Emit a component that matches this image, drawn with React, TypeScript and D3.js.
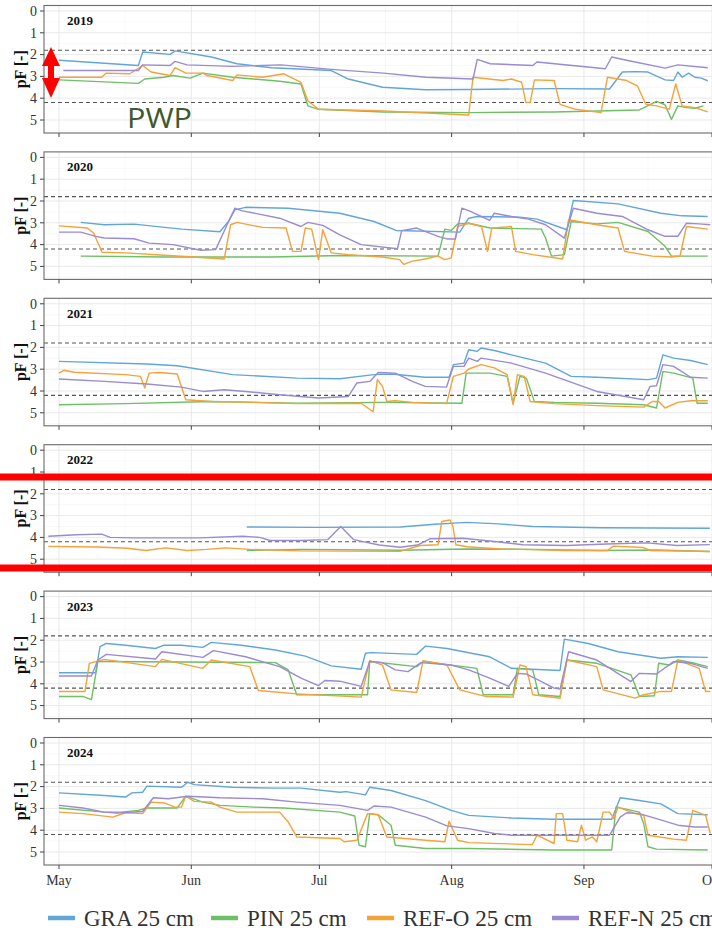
import React from 'react';
import * as d3 from 'd3';

type Pt = [number, number];

const years = ['2019', '2020', '2021', '2022', '2023', '2024'];
const seriesNames = ['GRA 25 cm', 'PIN 25 cm', 'REF-O 25 cm', 'REF-N 25 cm'];
const monthLabels = ['May', 'Jun', 'Jul', 'Aug', 'Sep', 'Oct'];
const yTicks = [0, 1, 2, 3, 4, 5];
const thresholds = [1.8, 4.2];

// [days since 1 May, pF]
const gra2019: Pt[] = [[0,2.26],[18.6,2.5],[19.6,1.88],[26,1.99],[27.2,1.83],[35.7,2.11],[41.7,2.42],[49.8,2.6],[63.8,2.73],[67.8,3.12],[75.8,3.5],[85.9,3.61],[96,3.6],[116,3.56],[129,3.58],[132,2.8],[135,2.78],[138,2.8],[142,3.16],[144,3.19],[145,2.8],[146,3.04],[147.5,2.85],[149,3.04],[150.5,3.08],[152,3.2]];
const pin2019: Pt[] = [[0,3.16],[18.6,3.32],[20.1,3.12],[24.6,3.04],[26.6,2.96],[30.7,3.08],[33.7,2.85],[40.7,3.04],[51.7,3.22],[56.7,3.35],[58.3,4.35],[60.8,4.51],[76,4.63],[96,4.66],[116,4.63],[136,4.54],[140,4.15],[142,4.3],[143.5,4.97],[145,4.35],[147,4.43],[149,4.46],[151,4.35]];
const refo2019: Pt[] = [[0,3.04],[10,3.04],[11,2.85],[16.6,2.88],[19.6,2.5],[21.6,2.8],[26,2.96],[27.2,2.6],[29.7,2.85],[33.7,2.85],[34.7,2.96],[40.7,3.19],[41.7,2.93],[47.7,3.04],[52.7,2.88],[56.7,3.27],[58.3,4.12],[60.8,4.51],[76,4.59],[96,4.77],[97,3.04],[104,3.19],[106,3.12],[108.4,3.27],[109.4,4.2],[110.4,4.2],[111.4,3.16],[116,3.19],[117.4,4.28],[121,4.51],[127,4.66],[128.5,3.04],[133,3.19],[135.5,3.43],[137.5,4.28],[140,4.35],[143,4.5],[144.5,3.35],[146,4.35],[149,4.43],[152,4.63]];
const refn2019: Pt[] = [[1,2.73],[18.6,2.73],[19.6,2.47],[26,2.5],[27.2,2.31],[30,2.47],[40.7,2.54],[52,2.47],[63.8,2.68],[76,2.85],[86,3.04],[97,3.12],[98,2.22],[101,2.42],[111,2.5],[112,2.34],[128,2.65],[129.5,2.11],[133,2.26],[142,2.62],[145,2.47],[152,2.6]];

const gra2020: Pt[] = [[5.1,2.98],[10.6,3.09],[17.6,3.06],[28.7,3.29],[37.7,3.41],[39.7,2.94],[41.2,2.41],[43.7,2.29],[53.7,2.33],[65.8,2.56],[73.8,2.94],[79,3.35],[93.9,3.43],[96,2.79],[98,2.71],[108,2.74],[112,2.83],[119,3.32],[120.5,1.98],[131,2.13],[141,2.56],[146,2.68],[152,2.71]];
const pin2020: Pt[] = [[5.1,4.53],[25,4.57],[50,4.57],[65.8,4.5],[88.8,4.53],[90.4,3.29],[91.9,3.35],[93.4,3.05],[96,3.02],[101,3.24],[113,3.29],[114,3.7],[115.4,4.53],[118.4,4.46],[120,2.94],[126,3.05],[131,2.98],[138,3.4],[142,4.08],[143.5,4.53],[152,4.53]];
const refo2020: Pt[] = [[0,3.14],[6.6,3.24],[8.1,3.47],[10.1,4.35],[15.6,4.38],[25.7,4.5],[38.7,4.66],[40.2,3.09],[41.7,2.98],[47.7,3.21],[53.2,3.24],[54.7,4.31],[56.7,4.31],[57.7,3.24],[59.2,3.29],[60.8,4.69],[61.8,3.32],[63.8,4.38],[67.8,4.46],[75.8,4.57],[79.8,4.69],[80.8,4.91],[82.8,4.76],[85.8,4.66],[88.8,4.53],[90.4,4.69],[91.9,4.61],[93.4,3.17],[96,3.02],[99,3.17],[100.4,4.31],[101.4,3.24],[106,3.17],[107,4.31],[111,4.46],[118,4.66],[119.4,2.86],[126,3.09],[131,3.24],[132.5,4.31],[139,4.53],[143.5,4.57],[145.5,4.53],[147,3.17],[152,3.29]];
const refn2020: Pt[] = [[0,3.43],[5.1,3.43],[8.6,3.62],[10.6,3.7],[17.6,3.73],[21.1,3.93],[26.7,4.0],[33.2,4.26],[36.7,4.23],[39.2,3.17],[41.2,2.33],[42.7,2.44],[51.7,2.79],[56.7,3.17],[58.3,2.98],[61.8,3.12],[65.8,3.55],[70.8,4.0],[79.3,4.19],[80.3,3.36],[83.8,3.24],[88.8,3.62],[90.9,3.74],[92.9,3.74],[94.4,2.33],[96.4,2.48],[100.9,2.89],[102,2.56],[106,2.71],[110,2.83],[114,3.09],[118.4,3.7],[120.5,2.33],[126,2.56],[132,2.71],[138,3.32],[142,3.62],[145,3.62],[147,3.02],[150,3.05],[152.6,3.09]];

const gra2021: Pt[] = [[0,2.64],[20.6,2.76],[27.7,2.84],[40.7,3.25],[55.7,3.41],[65.8,3.44],[73.8,3.25],[78,3.22],[85.8,3.37],[91.4,3.37],[92.4,2.79],[94.9,2.72],[96,2.11],[98,2.18],[98.9,2.03],[102,2.14],[106,2.34],[114,2.72],[120,3.33],[126,3.37],[138,3.48],[140,3.41],[141.5,2.34],[144,2.49],[148,2.6],[152,2.79]];
const pin2021: Pt[] = [[0,4.63],[15.6,4.58],[35.7,4.48],[55.7,4.56],[75.8,4.52],[94.4,4.56],[95.4,3.18],[101,3.18],[105,3.33],[106.4,4.56],[108,3.33],[109.5,3.41],[111.4,4.48],[116,4.52],[126,4.56],[137,4.63],[140,4.78],[141.5,3.1],[144,3.18],[148.5,3.41],[149.5,4.56],[152,4.56]];
const refo2021: Pt[] = [[0,3.18],[1.1,3.05],[3.6,3.14],[15.6,3.25],[19.1,3.33],[20.1,3.86],[21.1,3.18],[23.6,3.15],[27.7,3.22],[29.7,4.4],[35.7,4.48],[45.7,4.52],[55.7,4.58],[70.8,4.56],[73.6,4.95],[74.6,3.48],[75.8,3.79],[76.8,4.48],[78.8,4.45],[82.8,4.52],[90.8,4.58],[92.4,3.33],[94.9,3.18],[96,2.99],[98.9,2.79],[102,2.94],[105,3.25],[106.4,4.63],[107.4,3.25],[109,3.33],[110.4,4.48],[116,4.58],[126,4.67],[137,4.74],[139,4.48],[140.5,4.48],[142,4.78],[145,4.52],[148,4.45],[152,4.45]];
const refn2021: Pt[] = [[0,3.45],[10.6,3.56],[20.6,3.68],[28.7,3.82],[33.7,4.02],[38.7,3.94],[43.7,4.02],[51.7,4.17],[60.8,4.32],[67.8,4.25],[69.8,3.63],[72.8,3.56],[74.8,3.15],[78.8,3.18],[82.8,3.56],[85.8,3.79],[90.8,3.82],[92.4,2.87],[94.9,2.87],[96,2.49],[98,2.64],[98.9,2.49],[106,2.72],[114,3.18],[126,4.02],[137,4.4],[138.5,3.79],[140,3.76],[141.5,2.79],[144,2.87],[148,3.37],[152,3.41]];

const gra2022: Pt[] = [[44,3.52],[60,3.54],[80,3.52],[88,3.4],[95.6,3.31],[103,3.38],[111,3.5],[127,3.56],[152.5,3.58]];
const pin2022: Pt[] = [[44,4.6],[56.5,4.55],[80,4.59],[95.6,4.53],[111,4.55],[126.8,4.6],[140,4.58],[152.5,4.65]];
const refo2022: Pt[] = [[-2.5,4.41],[9,4.44],[16,4.5],[20.4,4.6],[25,4.48],[30,4.6],[34.7,4.55],[39,4.48],[44.7,4.55],[56.5,4.62],[79.9,4.64],[84.6,4.37],[88.8,4.34],[89.7,3.27],[91.6,3.2],[92.3,3.5],[93,4.34],[95.6,4.43],[103.3,4.53],[119,4.6],[128.6,4.6],[129.8,4.4],[136.8,4.46],[138.5,4.6],[152.5,4.65]];
const refn2022: Pt[] = [[-2.5,3.95],[4,3.88],[10,3.85],[12,4.0],[17.3,4.02],[33,4.02],[43,3.95],[47,4.0],[49.5,4.14],[56.5,4.14],[63,4.1],[66,3.5],[69,4.1],[75,4.35],[79.9,4.45],[84,4.35],[87,4.06],[94.6,4.04],[102.6,4.2],[108.7,4.34],[119,4.37],[128.4,4.3],[137.8,4.25],[144.8,4.37],[152.5,4.33]];

const gra2023: Pt[] = [[0,3.49],[8.6,3.49],[9.6,2.3],[11.1,2.15],[15.6,2.23],[22.6,2.38],[24.6,2.23],[28.7,2.23],[33.7,2.33],[35.7,2.1],[42.7,2.23],[50.7,2.45],[57.7,2.73],[63.8,3.18],[70.8,3.33],[71.8,2.6],[73.3,2.57],[83.8,2.65],[85.9,2.27],[90.9,2.38],[100.9,2.76],[106,3.29],[111,3.33],[117.4,3.39],[118.4,1.95],[124,2.15],[131,2.53],[141,2.83],[145,2.76],[152,2.79]];
const pin2023: Pt[] = [[0,4.58],[5.6,4.58],[7.6,4.73],[9.1,2.98],[11.6,2.98],[50.7,3.03],[53.7,3.36],[55.7,4.5],[70.8,4.5],[72.3,4.5],[72.8,2.98],[83.8,3.21],[85.3,2.98],[97.9,3.29],[99.4,4.5],[106.4,4.5],[107.4,3.29],[111,3.36],[112.4,4.5],[117.4,4.58],[119,2.91],[126,3.06],[134,3.59],[136,4.58],[139.5,4.55],[140.5,3.06],[143,3.14],[145,2.91],[149,3.06],[152,3.21]];
const refo2023: Pt[] = [[0,4.35],[6.1,4.35],[7.1,3.06],[10.6,2.88],[22.6,3.21],[24.1,2.88],[33.7,3.29],[35.7,2.91],[44.7,3.21],[46.7,4.31],[55.7,4.46],[70.8,4.61],[72.8,2.94],[75.8,3.14],[77.8,4.28],[83.8,4.4],[85.3,2.94],[90.9,3.14],[93.9,4.28],[99.9,4.58],[106.4,4.61],[108,3.14],[109.4,3.21],[111,4.5],[117.4,4.66],[119,2.91],[126,3.21],[127.5,4.28],[135,4.66],[137,4.5],[141,4.35],[143.5,4.35],[145,2.91],[150,3.29],[151.5,4.35],[152.6,4.35]];
const refn2023: Pt[] = [[0,3.64],[7.6,3.64],[9.1,2.91],[11.1,2.65],[22.6,2.86],[24.1,2.53],[33.7,2.79],[36.2,2.48],[43.7,2.76],[51.7,3.21],[56.7,3.74],[60.8,4.08],[62.3,3.85],[65.8,3.88],[70.8,4.12],[72.8,2.98],[75.8,3.03],[78.8,3.36],[81.8,3.44],[84.8,3.03],[91.9,3.14],[96,3.36],[100.9,3.74],[105.4,4.12],[107.4,3.52],[109.4,3.55],[111.9,3.79],[116,4.2],[117.4,4.24],[119.4,2.53],[126,2.91],[134,3.9],[136,3.52],[140,3.55],[144,2.98],[148,3.06],[152,3.29]];

const gra2024: Pt[] = [[0,2.29],[10.6,2.41],[15.6,2.48],[17.1,2.29],[19.6,2.26],[20.6,1.98],[28.7,2.03],[30.2,1.8],[31.7,1.91],[40.7,2.03],[50.7,2.07],[56.7,2.07],[65.8,2.26],[67.3,2.23],[71.8,2.38],[72.8,2.03],[77.8,2.18],[85.9,2.64],[91.9,3.09],[96,3.32],[106,3.44],[116,3.5],[129.5,3.5],[131.5,2.51],[136,2.64],[141,2.79],[145,3.24],[152,3.29]];
const pin2024: Pt[] = [[0,2.98],[10.6,3.17],[14.6,3.17],[18.6,3.09],[20.6,2.98],[27.7,2.98],[29.7,2.44],[33.7,2.71],[37.7,2.86],[45.7,2.94],[52.7,2.98],[65.8,3.17],[69.3,3.35],[70.3,4.69],[71.8,4.76],[72.8,3.24],[74.8,3.29],[77.8,3.77],[78.8,4.69],[85.9,4.84],[96,4.84],[116,4.91],[129.5,4.91],[130.5,2.94],[132,3.0],[136,3.17],[137,3.7],[138,4.76],[140,4.87],[152,4.91]];
const refo2024: Pt[] = [[0,3.17],[5.6,3.24],[12.6,3.4],[15.6,3.2],[19.6,3.24],[21.6,2.71],[24.6,2.75],[27.2,2.94],[28.7,2.94],[29.7,2.44],[31.7,2.68],[35.7,2.71],[37.7,2.94],[41.7,3.17],[51.7,3.17],[53.7,3.62],[55.7,4.31],[65.8,4.38],[66.8,4.53],[69.8,4.46],[72.3,3.24],[74.8,3.29],[76.8,4.31],[85.9,4.46],[90.4,4.53],[91.4,3.59],[93.4,4.46],[96,4.57],[110.9,4.66],[112,4.23],[116,4.61],[116.5,3.24],[118,3.24],[119,4.46],[121.5,4.53],[122.4,3.77],[123.4,4.46],[125,4.31],[126,4.53],[127.5,3.17],[129,3.17],[130,3.47],[131,2.94],[135,3.24],[137,3.32],[138,4.23],[144,4.41],[147,4.46],[148.5,3.09],[151.5,3.32],[152.6,4.15]];
const refn2024: Pt[] = [[0,2.86],[5.6,2.98],[10.6,3.17],[13.6,3.21],[19.6,3.14],[22.1,2.51],[25.6,2.56],[30.2,2.44],[37.7,2.51],[47.7,2.56],[55.7,2.71],[65.8,2.86],[72.3,3.09],[73.8,2.89],[77.8,2.94],[85.9,3.4],[90.9,3.8],[96,3.93],[102,4.15],[106,4.23],[129,4.23],[131.5,3.4],[133,3.2],[136,3.24],[140,3.47],[145,3.77],[149,3.85],[152,3.85]];

const panelData: Pt[][][] = [
  [gra2019, pin2019, refo2019, refn2019],
  [gra2020, pin2020, refo2020, refn2020],
  [gra2021, pin2021, refo2021, refn2021],
  [gra2022, pin2022, refo2022, refn2022],
  [gra2023, pin2023, refo2023, refn2023],
  [gra2024, pin2024, refo2024, refn2024],
];

const COLORS = ['#62a6d8', '#6fbf66', '#f4a23a', '#9b8bd0'];
const SERIF = "'Liberation Serif', 'Times New Roman', serif";

const W = 712;
const H = 932;
const PANEL_LEFT = 44;
const PANEL_RIGHT = 745;
const PANEL_TOP0 = 5.5;
const PANEL_STEP = 146.4;
const PANEL_H = 127.5;

const base = new Date(2019, 4, 1);
const toDate = (d: number) => new Date(base.getTime() + d * 864e5);
const x = d3.scaleTime().domain([new Date(2019, 4, 1), new Date(2019, 9, 1)]).range([59, 712]);
const monthTicks = d3.timeMonth.range(new Date(2019, 4, 1), new Date(2019, 9, 2));
const minorX = monthTicks.slice(0, -1).map((m, i) => new Date((m.getTime() + monthTicks[i + 1].getTime()) / 2));
minorX.unshift(new Date(2019, 3, 16));
minorX.push(new Date(2019, 9, 16));

function Panel({ i }: { i: number }) {
  const top = PANEL_TOP0 + i * PANEL_STEP;
  const bottom = top + PANEL_H;
  const y = d3.scaleLinear().domain([0, 5]).range([top + 5.5, top + 114.5]);
  const line = d3.line<Pt>().x((p) => x(toDate(p[0]))).y((p) => y(p[1])).curve(d3.curveLinear);
  const minorY = d3.range(-0.5, 6, 1).filter((v) => y(v) > top && y(v) < bottom);
  const clipId = `clip${i}`;
  return (
    <g>
      <defs>
        <clipPath id={clipId}>
          <rect x={PANEL_LEFT} y={top} width={PANEL_RIGHT - PANEL_LEFT} height={PANEL_H} />
        </clipPath>
      </defs>
      <rect x={PANEL_LEFT} y={top} width={PANEL_RIGHT - PANEL_LEFT} height={PANEL_H} fill="#fff" />
      <g clipPath={`url(#${clipId})`}>
        {minorY.map((v) => (
          <line key={'my' + v} x1={PANEL_LEFT} x2={PANEL_RIGHT} y1={y(v)} y2={y(v)} stroke="#f3f3f3" strokeWidth={0.6} />
        ))}
        {minorX.map((d, k) => (
          <line key={'mx' + k} x1={x(d)} x2={x(d)} y1={top} y2={bottom} stroke="#f3f3f3" strokeWidth={0.6} />
        ))}
        {yTicks.map((v) => (
          <line key={'gy' + v} x1={PANEL_LEFT} x2={PANEL_RIGHT} y1={y(v)} y2={y(v)} stroke="#e6e6e6" strokeWidth={0.9} />
        ))}
        {monthTicks.map((d, k) => (
          <line key={'gx' + k} x1={x(d)} x2={x(d)} y1={top} y2={bottom} stroke="#e6e6e6" strokeWidth={0.9} />
        ))}
        {thresholds.map((t) => (
          <line key={'t' + t} x1={PANEL_LEFT} x2={PANEL_RIGHT} y1={y(t)} y2={y(t)} stroke="#555" strokeWidth={1.1} strokeDasharray="4,3" />
        ))}
        {panelData[i].map((s, k) => (
          <path key={'s' + k} d={line(s) || ''} fill="none" stroke={COLORS[k]} strokeWidth={1.4} strokeLinejoin="round" />
        ))}
      </g>
      <rect x={PANEL_LEFT} y={top} width={PANEL_RIGHT - PANEL_LEFT} height={PANEL_H} fill="none" stroke="#6b6b6b" strokeWidth={1.1} />
      {yTicks.map((v) => (
        <g key={'yt' + v}>
          <line x1={PANEL_LEFT - 4} x2={PANEL_LEFT} y1={y(v)} y2={y(v)} stroke="#444" strokeWidth={1} />
          <text x={PANEL_LEFT - 7} y={y(v) + 4.8} textAnchor="end" fontFamily={SERIF} fontSize={14} fill="#333">{v}</text>
        </g>
      ))}
      {monthTicks.map((d, k) => (
        <line key={'xt' + k} x1={x(d)} x2={x(d)} y1={bottom} y2={bottom + 4} stroke="#444" strokeWidth={1} />
      ))}
      <text x={26} y={(top + bottom) / 2} transform={`rotate(-90, 26, ${(top + bottom) / 2})`} textAnchor="middle" fontFamily={SERIF} fontWeight="bold" fontSize={16} fill="#111">pF [-]</text>
      <text x={67} y={top + 19.5} fontFamily={SERIF} fontWeight="bold" fontSize={13} fill="#111">{years[i]}</text>
    </g>
  );
}

export default function App() {
  const lastBottom = PANEL_TOP0 + 5 * PANEL_STEP + PANEL_H;
  const legendX = [48, 211, 367, 552];
  return (
    <svg width={W} height={H} style={{ position: 'absolute', left: 0, top: 0, background: '#fff' }}>
      <rect x={0} y={0} width={W} height={H} fill="#fff" />
      {years.map((_, i) => <Panel key={i} i={i} />)}
      {monthTicks.map((d, k) => (
        <text key={'xl' + k} x={x(d)} y={lastBottom + 20} textAnchor="middle" fontFamily={SERIF} fontSize={14} fill="#333">{monthLabels[k]}</text>
      ))}
      {seriesNames.map((n, k) => (
        <g key={'lg' + k}>
          <line x1={legendX[k]} x2={legendX[k] + 27} y1={918} y2={918} stroke={COLORS[k]} strokeWidth={4.5} />
          <text x={legendX[k] + 36} y={926} fontFamily={SERIF} fontSize={23} fill="#333">{n}</text>
        </g>
      ))}
      {/* annotations */}
      <polygon points="51,47 60,66 54,66 54,78 60,78 51,98 42,78 48,78 48,66 42,66" fill="#ff0000" />
      <text x={127} y={128} fontFamily="'Open Sans', 'Noto Sans', sans-serif" fontSize={27} fill="#3d5a2c" textLength={65} lengthAdjust="spacingAndGlyphs">PWP</text>
      <line x1={0} x2={W} y1={477} y2={477} stroke="#ff0000" strokeWidth={7} />
      <line x1={0} x2={W} y1={568} y2={568} stroke="#ff0000" strokeWidth={7} />
    </svg>
  );
}
